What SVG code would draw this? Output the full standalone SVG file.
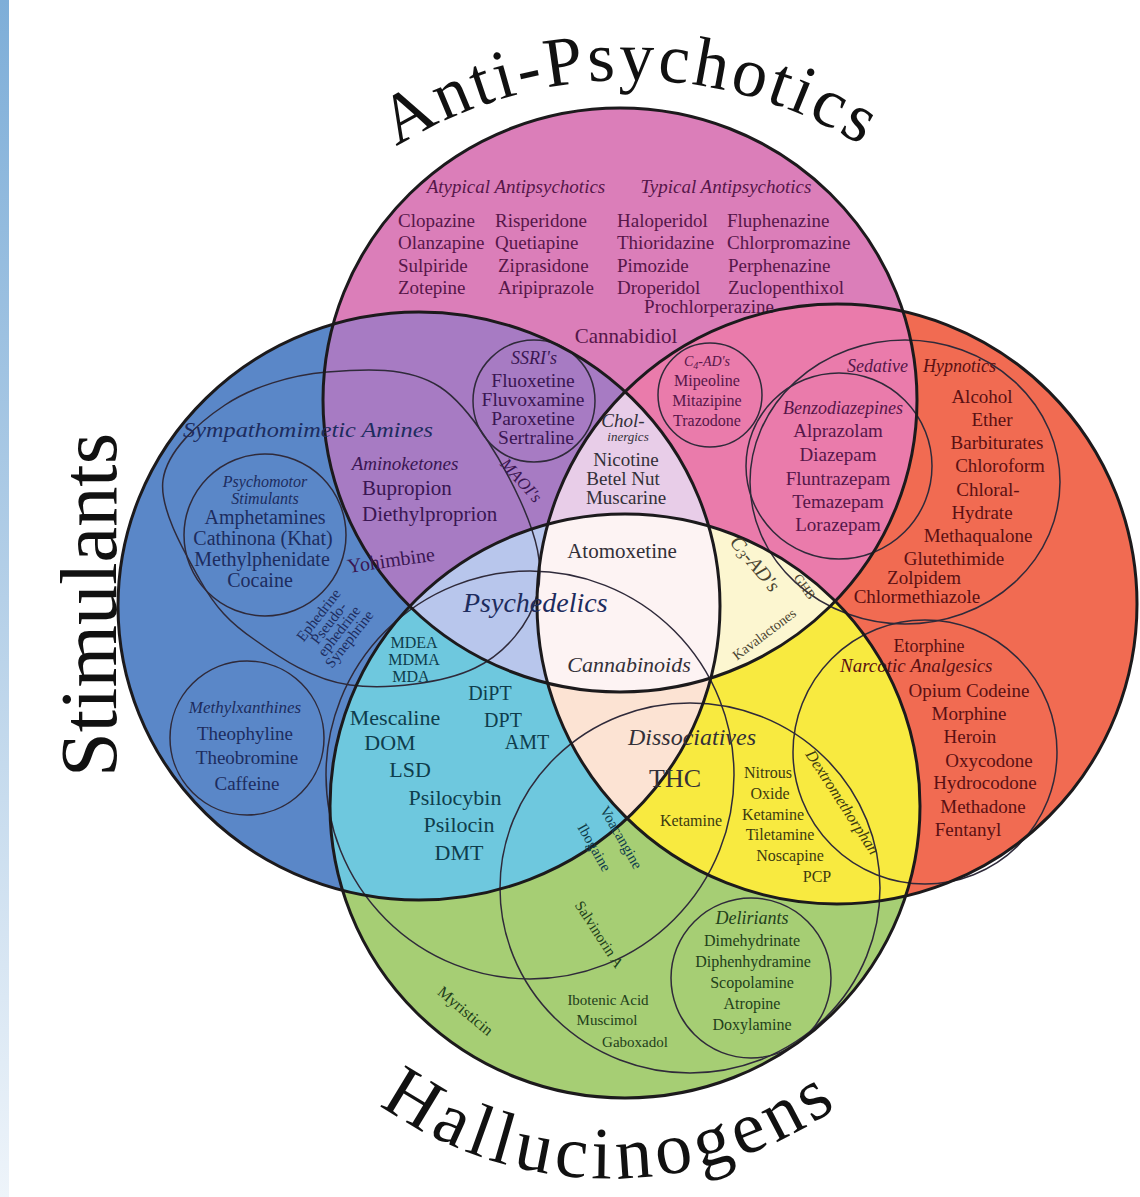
<svg xmlns="http://www.w3.org/2000/svg" width="1140" height="1197" viewBox="0 0 1140 1197">
<defs>
<linearGradient id="strip" x1="0" y1="0" x2="0" y2="1">
<stop offset="0" stop-color="#7EAED8"/><stop offset="0.5" stop-color="#B5D0E8"/><stop offset="1" stop-color="#EEF4FA"/>
</linearGradient>
<clipPath id="cP"><ellipse cx="620" cy="400" rx="297" ry="292"/></clipPath>
<clipPath id="cB"><ellipse cx="419" cy="606" rx="301" ry="294"/></clipPath>
<clipPath id="cR"><circle cx="837" cy="604" r="300"/></clipPath>
<clipPath id="cG"><ellipse cx="625" cy="806" rx="295" ry="292"/></clipPath>
<path id="arcAP" d="M293,237 A440 440 0 0 1 967,237"/>
<path id="arcH" d="M370,1098 A398 398 0 0 0 850,1098"/>
</defs>
<style>
text{font-family:"Liberation Serif","Times New Roman",serif}
.it{font-style:italic}
.m{text-anchor:middle}
.thick{fill:none;stroke:#1c1a1c;stroke-width:3}
.thin{fill:none;stroke:#2f2a3a;stroke-width:1.5}
.big{fill:#111}
.pk{fill:#561649;font-size:19px}
.pu{fill:#3a1652}
.bl{fill:#1d2c5e}
.rd{fill:#5a1012;font-size:19px}
.cy{fill:#0f3d4c}
.gr{fill:#22401a}
.ye{fill:#3d3a10}
.cr{fill:#4a4430}
.nt{fill:#333038}
</style>
<rect x="0" y="0" width="1140" height="1197" fill="#ffffff"/>
<rect x="0" y="0" width="9" height="1197" fill="url(#strip)"/>

<g id="region-fills">
<ellipse cx="620" cy="400" rx="297" ry="292" fill="#DB7EB9"/>
<ellipse cx="419" cy="606" rx="301" ry="294" fill="#5A87C8"/>
<circle cx="837" cy="604" r="300" fill="#F16B52"/>
<ellipse cx="625" cy="806" rx="295" ry="292" fill="#A6CE74"/>
<g clip-path="url(#cP)"><ellipse cx="419" cy="606" rx="301" ry="294" fill="#A77BC3"/></g>
<g clip-path="url(#cP)"><circle cx="837" cy="604" r="300" fill="#EA7BAB"/></g>
<g clip-path="url(#cB)"><ellipse cx="625" cy="806" rx="295" ry="292" fill="#6EC8DE"/></g>
<g clip-path="url(#cR)"><ellipse cx="625" cy="806" rx="295" ry="292" fill="#F8EA40"/></g>
<g clip-path="url(#cP)"><g clip-path="url(#cB)"><circle cx="837" cy="604" r="300" fill="#E8CDE8"/></g></g>
<g clip-path="url(#cP)"><g clip-path="url(#cR)"><ellipse cx="625" cy="806" rx="295" ry="292" fill="#FCF6D0"/></g></g>
<g clip-path="url(#cP)"><g clip-path="url(#cB)"><ellipse cx="625" cy="806" rx="295" ry="292" fill="#B8C6EC"/></g></g>
<g clip-path="url(#cB)"><g clip-path="url(#cR)"><ellipse cx="625" cy="806" rx="295" ry="292" fill="#FCE3D3"/></g></g>
<g clip-path="url(#cP)"><g clip-path="url(#cB)"><g clip-path="url(#cR)"><ellipse cx="625" cy="806" rx="295" ry="292" fill="#FDF3F3"/></g></g></g>
</g>

<g id="subgroups">
<circle id="ssri" class="thin" cx="534" cy="401" r="61"/>
<circle id="c4ad" class="thin" cx="710" cy="395" r="52"/>
<circle id="benzo" class="thin" cx="839" cy="466" r="93"/>
<ellipse id="sedhyp" class="thin" cx="905" cy="482" rx="155" ry="142"/>
<path id="sympath" class="thin" d="M163,480 C167,451 198,423 225,405 C252,387 291,375 327,372 C363,369 408,366 440,387 C472,408 504,465 520,500 C536,535 545,567 537,595 C530,623 506,653 475,668 C444,683 387,690 350,685 C313,680 280,658 255,640 C230,623 215,607 200,580 C185,553 159,509 163,480 Z"/>
<circle id="psychomotor" class="thin" cx="265" cy="535" r="81"/>
<circle id="methylx" class="thin" cx="247" cy="738" r="77"/>
<circle id="psychedelics" class="thin" cx="530" cy="775" r="204"/>
<ellipse id="dissoc" class="thin" cx="690" cy="888" rx="190" ry="185"/>
<circle id="narcotic" class="thin" cx="925" cy="752" r="132"/>
<circle id="delir" class="thin" cx="751" cy="978" r="80"/>
</g>

<g id="anti-psychotics">
<ellipse class="thick" cx="620" cy="400" rx="297" ry="292"/>
<text class="big" style="font-size:70px" letter-spacing="3"><textPath href="#arcAP" startOffset="50%" text-anchor="middle">Anti-Psychotics</textPath></text>
<text class="pk it m" x="516" y="193">Atypical Antipsychotics</text>
<text class="pk it m" x="726" y="193">Typical Antipsychotics</text>
<text class="pk" x="398" y="227">Clopazine</text>
<text class="pk" x="495" y="227">Risperidone</text>
<text class="pk" x="617" y="227">Haloperidol</text>
<text class="pk" x="727" y="227">Fluphenazine</text>
<text class="pk" x="398" y="249">Olanzapine</text>
<text class="pk" x="495" y="249">Quetiapine</text>
<text class="pk" x="617" y="249">Thioridazine</text>
<text class="pk" x="727" y="249">Chlorpromazine</text>
<text class="pk" x="398" y="272">Sulpiride</text>
<text class="pk" x="498" y="272">Ziprasidone</text>
<text class="pk" x="617" y="272">Pimozide</text>
<text class="pk" x="728" y="272">Perphenazine</text>
<text class="pk" x="398" y="294">Zotepine</text>
<text class="pk" x="498" y="294">Aripiprazole</text>
<text class="pk" x="617" y="294">Droperidol</text>
<text class="pk" x="728" y="294">Zuclopenthixol</text>
<text class="pk m" x="709" y="313">Prochlorperazine</text>
<text class="pk m" x="626" y="343" style="font-size:21px">Cannabidiol</text>
</g>

<g id="stimulants">
<ellipse class="thick" cx="419" cy="606" rx="301" ry="294"/>
<text class="big m" transform="translate(116,605) rotate(-90)" textLength="344" lengthAdjust="spacingAndGlyphs" style="font-size:80px">Stimulants</text>
<text class="bl it" x="183" y="437" font-size="22" textLength="250" lengthAdjust="spacingAndGlyphs">Sympathomimetic Amines</text>
<text class="pu it m" x="405" y="470" font-size="19">Aminoketones</text>
<text class="pu" x="362" y="495" font-size="21">Bupropion</text>
<text class="pu" x="362" y="521" font-size="21">Diethylproprion</text>
<text class="pu" x="347" y="566" font-size="20" transform="rotate(-8 397 560)">Yohimbine</text>
<text class="pu it m" font-size="17" transform="translate(517,484) rotate(48)">MAOI's</text>
<text class="bl it m" x="265" y="487" font-size="16">Psychomotor</text>
<text class="bl it m" x="265" y="504" font-size="16">Stimulants</text>
<text class="bl m" x="265" y="524" font-size="20">Amphetamines</text>
<text class="bl m" x="263" y="545" font-size="20">Cathinona (Khat)</text>
<text class="bl m" x="262" y="566" font-size="20">Methylphenidate</text>
<text class="bl m" x="260" y="587" font-size="20">Cocaine</text>
<g transform="translate(335,628) rotate(-52)">
<text class="bl m" x="0" y="-16" font-size="15">Ephedrine</text>
<text class="bl m" x="0" y="-3" font-size="15">Pseudo-</text>
<text class="bl m" x="0" y="10" font-size="15">ephedrine</text>
<text class="bl m" x="0" y="23" font-size="15">Synephrine</text>
</g>
<text class="bl it m" x="245" y="713" font-size="17">Methylxanthines</text>
<text class="bl m" x="245" y="740" font-size="19">Theophyline</text>
<text class="bl m" x="247" y="764" font-size="19">Theobromine</text>
<text class="bl m" x="247" y="790" font-size="19">Caffeine</text>
<text class="pu it m" x="534" y="364" font-size="18">SSRI's</text>
<text class="pu m" x="533" y="387" font-size="19.5">Fluoxetine</text>
<text class="pu m" x="533" y="406" font-size="19.5">Fluvoxamine</text>
<text class="pu m" x="533" y="425" font-size="19.5">Paroxetine</text>
<text class="pu m" x="536" y="444" font-size="19.5">Sertraline</text>
</g>

<g id="depressants">
<circle class="thick" cx="837" cy="604" r="300"/>
<text class="pk it m" x="707" y="366" style="font-size:14px">C<tspan font-size="10" dy="3">4</tspan><tspan dy="-3">-AD's</tspan></text>
<text class="pk m" x="707" y="386" style="font-size:16px">Mipeoline</text>
<text class="pk m" x="707" y="406" style="font-size:16px">Mitazipine</text>
<text class="pk m" x="707" y="426" style="font-size:16px">Trazodone</text>
<text class="pk it" x="847" y="372" style="font-size:18px">Sedative</text>
<text class="rd it" x="923" y="372" style="font-size:18px">Hypnotics</text>
<text class="pk it m" x="843" y="414" style="font-size:18px">Benzodiazepines</text>
<text class="pk m" x="838" y="437">Alprazolam</text>
<text class="pk m" x="838" y="461">Diazepam</text>
<text class="pk m" x="838" y="485">Fluntrazepam</text>
<text class="pk m" x="838" y="508">Temazepam</text>
<text class="pk m" x="838" y="531">Lorazepam</text>
<text class="rd m" x="982" y="403">Alcohol</text>
<text class="rd m" x="992" y="426">Ether</text>
<text class="rd m" x="997" y="449">Barbiturates</text>
<text class="rd m" x="1000" y="472">Chloroform</text>
<text class="rd m" x="988" y="496">Chloral-</text>
<text class="rd m" x="982" y="519">Hydrate</text>
<text class="rd m" x="978" y="542">Methaqualone</text>
<text class="rd m" x="954" y="565">Glutethimide</text>
<text class="rd m" x="924" y="584">Zolpidem</text>
<text class="rd m" x="917" y="603">Chlormethiazole</text>
<text class="rd m" x="929" y="652" style="font-size:18px">Etorphine</text>
<text class="rd it" x="840" y="672">Narcotic Analgesics</text>
<text class="rd m" x="969" y="697">Opium Codeine</text>
<text class="rd m" x="969" y="720">Morphine</text>
<text class="rd m" x="970" y="743">Heroin</text>
<text class="rd m" x="989" y="767">Oxycodone</text>
<text class="rd m" x="985" y="789">Hydrocodone</text>
<text class="rd m" x="983" y="813">Methadone</text>
<text class="rd m" x="968" y="836">Fentanyl</text>
<text class="nt it m" x="623" y="427" font-size="19">Chol-</text>
<text class="nt it m" x="628" y="441" font-size="13">inergics</text>
<text class="nt m" x="626" y="466" font-size="19">Nicotine</text>
<text class="nt m" x="623" y="485" font-size="19">Betel Nut</text>
<text class="nt m" x="626" y="504" font-size="19">Muscarine</text>
</g>

<g id="hallucinogens">
<ellipse class="thick" cx="625" cy="806" rx="295" ry="292"/>
<text class="big" style="font-size:74px" letter-spacing="5"><textPath href="#arcH" startOffset="50%" text-anchor="middle">Hallucinogens</textPath></text>
<text class="nt m" x="622" y="558" font-size="21">Atomoxetine</text>
<text class="bl it" x="463" y="612" font-size="28">Psychedelics</text>
<text class="nt it m" x="629" y="672" font-size="22">Cannabinoids</text>
<text class="cr it m" font-size="20" transform="translate(750,568) rotate(50)">C<tspan font-size="14" dy="3">3</tspan><tspan dy="-3">-AD's</tspan></text>
<text class="cr m" font-size="13" transform="translate(801,589) rotate(55)">GHB</text>
<text class="cr m" font-size="14" transform="translate(767,638) rotate(-37)">Kavalactones</text>
<text class="cy m" x="414" y="648" font-size="16">MDEA</text>
<text class="cy m" x="414" y="665" font-size="16">MDMA</text>
<text class="cy m" x="411" y="682" font-size="16">MDA</text>
<text class="cy m" x="490" y="700" font-size="20">DiPT</text>
<text class="cy m" x="503" y="727" font-size="20">DPT</text>
<text class="cy m" x="527" y="749" font-size="20">AMT</text>
<text class="cy m" x="395" y="725" font-size="22">Mescaline</text>
<text class="cy m" x="390" y="750" font-size="22">DOM</text>
<text class="cy m" x="410" y="777" font-size="22">LSD</text>
<text class="cy m" x="455" y="805" font-size="22">Psilocybin</text>
<text class="cy m" x="459" y="832" font-size="22">Psilocin</text>
<text class="cy m" x="459" y="860" font-size="22">DMT</text>
<text class="nt it" x="628" y="745" font-size="24">Dissociatives</text>
<text class="nt m" x="675" y="787" font-size="26">THC</text>
<text class="ye m" x="691" y="826" font-size="16">Ketamine</text>
<text class="ye m" x="768" y="778" font-size="16">Nitrous</text>
<text class="ye m" x="770" y="799" font-size="16">Oxide</text>
<text class="ye m" x="773" y="820" font-size="16">Ketamine</text>
<text class="ye m" x="780" y="840" font-size="16">Tiletamine</text>
<text class="ye m" x="790" y="861" font-size="16">Noscapine</text>
<text class="ye m" x="817" y="882" font-size="16">PCP</text>
<text class="ye it m" font-size="16" transform="translate(838,805) rotate(57)">Dextromethorphan</text>
<text class="cy m" font-size="15" transform="translate(617,840) rotate(60)">Voacangine</text>
<text class="cy m" font-size="15" transform="translate(590,850) rotate(60)">Ibogaine</text>
<text class="gr m" font-size="15" transform="translate(595,937) rotate(57)">Salvinorin A</text>
<text class="gr m" font-size="16" transform="translate(462,1015) rotate(40)">Myristicin</text>
<text class="gr m" x="608" y="1005" font-size="15">Ibotenic Acid</text>
<text class="gr m" x="607" y="1025" font-size="15">Muscimol</text>
<text class="gr m" x="635" y="1047" font-size="15">Gaboxadol</text>
<text class="gr it m" x="752" y="924" font-size="18">Deliriants</text>
<text class="gr m" x="752" y="946" font-size="16">Dimehydrinate</text>
<text class="gr m" x="753" y="967" font-size="16">Diphenhydramine</text>
<text class="gr m" x="752" y="988" font-size="16">Scopolamine</text>
<text class="gr m" x="752" y="1009" font-size="16">Atropine</text>
<text class="gr m" x="752" y="1030" font-size="16">Doxylamine</text>
</g>
</svg>
